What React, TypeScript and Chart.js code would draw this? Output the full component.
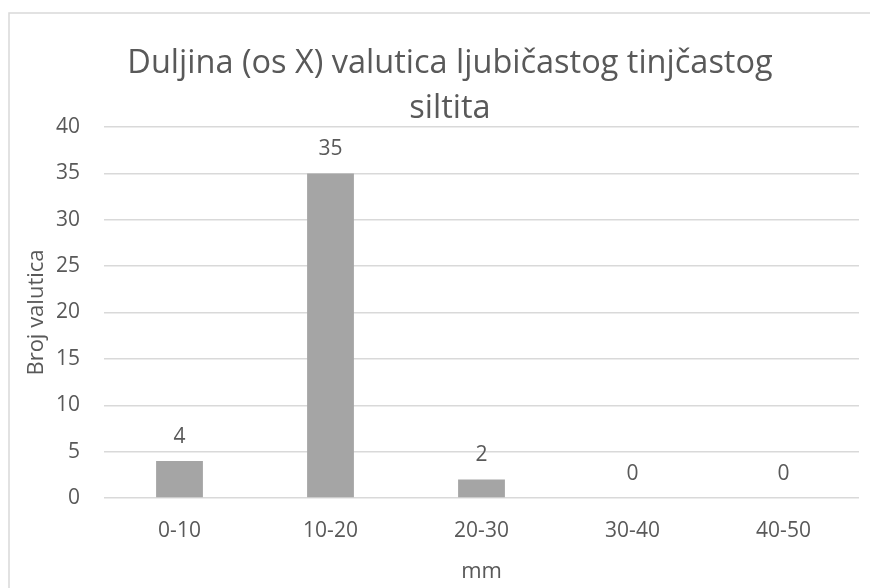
import React, { useEffect, useRef } from "react";
import { Chart, registerables } from "chart.js";

Chart.register(...registerables);

const categories = ["0-10", "10-20", "20-30", "30-40", "40-50"];
const counts = [4, 35, 2, 0, 0];
const titleLines = ["Duljina (os X) valutica ljubičastog tinjčastog", "siltita"];
const yTitle = "Broj valutica";
const xTitle = "mm";
const yMin = 0;
const yMax = 40;
const yStep = 5;

const FONT = "'Open Sans', sans-serif";
const TEXT = "#595959";
const GRID = "#d9d9d9";
const BAR = "#a5a5a5";

const W = 900;
const H = 588;

const frame = {
  id: "frame",
  beforeDraw(chart: any) {
    const ctx = chart.ctx;
    ctx.save();
    ctx.fillStyle = "#ffffff";
    ctx.fillRect(0, 0, chart.width, chart.height);
    ctx.strokeStyle = GRID;
    ctx.lineWidth = 1.5;
    ctx.beginPath();
    ctx.moveTo(9, chart.height + 2);
    ctx.lineTo(9, 13);
    ctx.lineTo(chart.width + 2, 13);
    ctx.stroke();
    ctx.restore();
  },
};

const valueLabels = {
  id: "valueLabels",
  afterDatasetsDraw(chart: any) {
    const ctx = chart.ctx;
    const meta = chart.getDatasetMeta(0);
    const data = chart.data.datasets[0].data;
    ctx.save();
    ctx.fillStyle = TEXT;
    ctx.font = `21px ${FONT}`;
    ctx.textAlign = "center";
    ctx.textBaseline = "middle";
    meta.data.forEach((el: any, i: number) => {
      ctx.fillText(String(data[i]), el.x, el.y - 24);
    });
    ctx.restore();
  },
};

export default function App() {
  const ref = useRef<HTMLCanvasElement | null>(null);
  useEffect(() => {
    if (!ref.current) return;
    const chart = new Chart(ref.current, {
      type: "bar",
      data: {
        labels: categories,
        datasets: [
          {
            data: counts,
            backgroundColor: BAR,
            barPercentage: 0.31,
            categoryPercentage: 1,
            yAxisID: "y",
          },
        ],
      },
      options: {
        responsive: false,
        animation: false,
        devicePixelRatio: 1,
        layout: { padding: { left: 9, right: 9, top: 0, bottom: 0 } },
        plugins: {
          legend: { display: false },
          tooltip: { enabled: false },
          title: {
            display: true,
            text: titleLines,
            color: TEXT,
            font: { family: FONT, size: 32.5, weight: "normal", lineHeight: 1.385 },
            padding: { top: 41, bottom: -4 },
          },
        },
        scales: {
          x: {
            grid: { display: false },
            border: { display: false },
            ticks: { color: TEXT, font: { family: FONT, size: 21 }, padding: 12 },
            title: {
              display: true,
              text: xTitle,
              color: TEXT,
              font: { family: FONT, size: 22 },
              padding: { top: 0, bottom: 3 },
            },
            afterFit: (s: any) => {
              s.height = 90;
            },
          },
          y: {
            position: "left",
            min: yMin,
            max: yMax,
            grid: { color: GRID, lineWidth: 1.5, drawTicks: false },
            border: { display: false },
            ticks: { stepSize: yStep, color: TEXT, font: { family: FONT, size: 21 }, padding: 24 },
            title: {
              display: true,
              text: yTitle,
              color: TEXT,
              font: { family: FONT, size: 22 },
              padding: { top: 14.8, bottom: 0 },
            },
            afterFit: (s: any) => {
              s.width = 95;
            },
          },
          y2: {
            type: "linear",
            position: "right",
            display: true,
            grid: { display: false, drawTicks: false },
            border: { display: false },
            ticks: { display: false },
            afterFit: (s: any) => {
              s.width = 32;
            },
          },
        },
      },
      plugins: [frame, valueLabels],
    });
    return () => chart.destroy();
  }, []);
  return (
    <div style={{ position: "fixed", left: 0, top: 0, width: 870, height: 588, overflow: "hidden", background: "#fff" }}>
      <canvas ref={ref} width={W} height={H} style={{ display: "block", width: W, height: H }} />
    </div>
  );
}
